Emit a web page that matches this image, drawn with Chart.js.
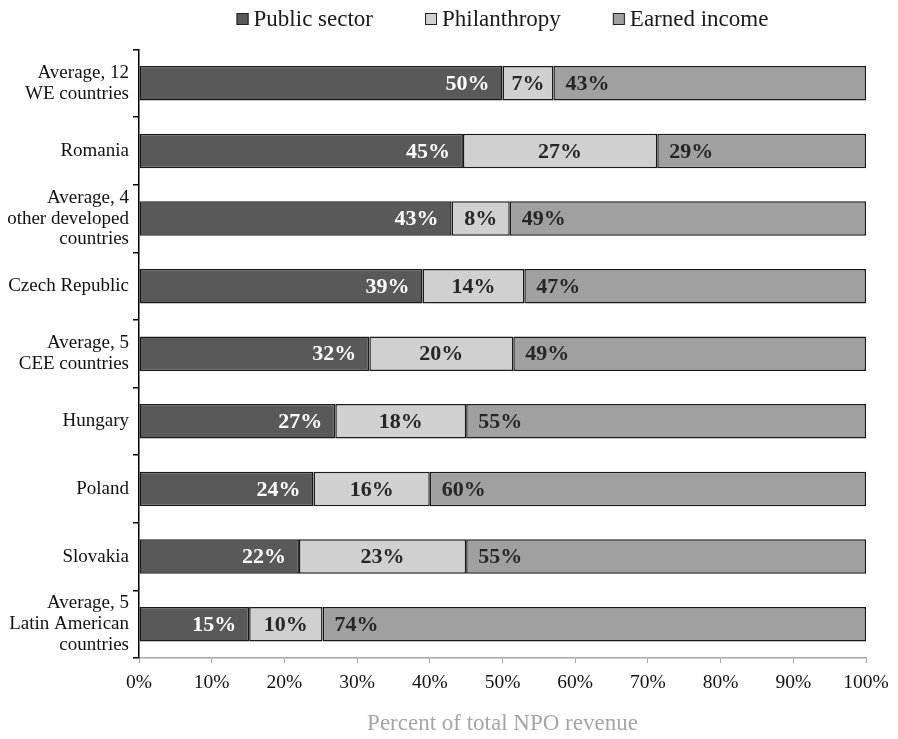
<!DOCTYPE html>
<html>
<head>
<meta charset="utf-8">
<title>NPO revenue sources</title>
<script src="https://cdn.jsdelivr.net/npm/chart.js@4.4.1/dist/chart.umd.min.js"></script>
<style>
    html, body { margin: 0; padding: 0; background: #fff; }
    #wrap { width: 898px; height: 739px; position: relative; }
</style>
</head>
<body>
<div id="wrap"><canvas id="revenueChart"></canvas></div>
<script>
// Revenue structure by country / group (shares as printed, %)
const countries = [
    ["Average, 12", "WE countries"],
    "Romania",
    ["Average, 4", "other developed", "countries"],
    "Czech Republic",
    ["Average, 5", "CEE countries"],
    "Hungary",
    "Poland",
    "Slovakia",
    ["Average, 5", "Latin American", "countries"]
];
const publicSector = [50, 45, 43, 39, 32, 27, 24, 22, 15];
const philanthropy = [7, 27, 8, 14, 20, 18, 16, 23, 10];
const earnedIncome = [43, 29, 49, 47, 49, 55, 60, 55, 74];

const seriesNames = ["Public sector", "Philanthropy", "Earned income"];
const seriesColors = ["#595959", "#d0d0d0", "#a0a0a0"];
const xTicks = [0, 10, 20, 30, 40, 50, 60, 70, 80, 90, 100];

const SERIF = '"Liberation Serif", "Times New Roman", serif';

// 100% stacked: every row is scaled to its own total
const rawSeries = [publicSector, philanthropy, earnedIncome];
const rowTotals = countries.map((_, i) => rawSeries.reduce((s, arr) => s + arr[i], 0));
const shares = rawSeries.map(arr => arr.map((v, i) => v / rowTotals[i] * 100));

// labels inside the bars: end / center / base
const barLabels = {
    id: "barLabels",
    afterDatasetsDraw(chart) {
        const ctx = chart.ctx;
        ctx.save();
        ctx.font = "bold 22px " + SERIF;
        ctx.textBaseline = "middle";
        chart.data.datasets.forEach((ds, di) => {
            const meta = chart.getDatasetMeta(di);
            meta.data.forEach((bar, i) => {
                const txt = rawSeries[di][i] + "%";
                const y = bar.y + 1;
                if (di === 0) {
                    ctx.fillStyle = "#ffffff";
                    ctx.textAlign = "right";
                    ctx.fillText(txt, bar.x - 13, y);
                } else if (di === 1) {
                    ctx.fillStyle = "#262626";
                    ctx.textAlign = "center";
                    ctx.fillText(txt, (bar.x + bar.base) / 2, y);
                } else {
                    ctx.fillStyle = "#262626";
                    ctx.textAlign = "left";
                    ctx.fillText(txt, bar.base + 12, y);
                }
            });
        });
        ctx.restore();
    }
};

// legend row above the plot
const topLegend = {
    id: "topLegend",
    afterDraw(chart) {
        const ctx = chart.ctx;
        const area = chart.chartArea;
        const box = 12, gapText = 5, gapItem = 52;
        ctx.save();
        ctx.font = "23px " + SERIF;
        const widths = seriesNames.map(n => ctx.measureText(n).width);
        const total = widths.reduce((s, w) => s + box + gapText + w, 0) + gapItem * (seriesNames.length - 1);
        let x = (area.left + area.right) / 2 - total / 2;
        const baseline = 26;
        seriesNames.forEach((name, i) => {
            ctx.fillStyle = seriesColors[i];
            ctx.fillRect(x, 13, box, box);
            ctx.strokeStyle = "#222";
            ctx.lineWidth = 1;
            ctx.strokeRect(x + 0.5, 13.5, box - 1, box - 1);
            ctx.fillStyle = "#1a1a1a";
            ctx.textAlign = "left";
            ctx.textBaseline = "alphabetic";
            ctx.fillText(name, x + box + gapText, baseline);
            x += box + gapText + widths[i] + gapItem;
        });
        ctx.restore();
    }
};

const ctx = document.getElementById("revenueChart").getContext("2d");

new Chart(ctx, {
    type: "bar",
    data: {
        labels: countries,
        datasets: seriesNames.map((name, i) => ({
            label: name,
            data: shares[i],
            backgroundColor: seriesColors[i],
            borderColor: "#1a1a1a",
            borderWidth: 1.5,
            borderSkipped: false,
            categoryPercentage: 1,
            barPercentage: 0.51
        }))
    },
    options: {
        indexAxis: "y",
        responsive: true,
        maintainAspectRatio: false,
        animation: false,
        layout: { padding: { top: 49.5, right: 32, left: 0, bottom: 0 } },
        plugins: {
            legend: { display: false },
            tooltip: { enabled: false }
        },
        scales: {
            x: {
                stacked: true,
                min: 0,
                max: 100,
                afterBuildTicks: scale => {
                    scale.ticks = xTicks.map(v => ({ value: v }));
                },
                afterFit: scale => { scale.height = 81; },
                ticks: {
                    callback: v => v + "%",
                    color: "#111",
                    font: { family: SERIF, size: 19.5 },
                    padding: 8,
                    maxRotation: 0
                },
                grid: {
                    drawOnChartArea: false,
                    drawTicks: true,
                    tickLength: 5,
                    color: "#a6a6a6",
                    lineWidth: 1
                },
                border: { color: "#a6a6a6", width: 1.5 },
                title: {
                    display: true,
                    text: "Percent of total NPO revenue",
                    color: "#a6a6a6",
                    font: { family: SERIF, size: 23 },
                    padding: { top: 0, bottom: 1 }
                }
            },
            y: {
                stacked: true,
                afterFit: scale => { scale.width = 139; },
                ticks: {
                    color: "#111",
                    font: { family: SERIF, size: 19, lineHeight: 1.1 },
                    padding: 4
                },
                grid: {
                    offset: true,
                    drawOnChartArea: false,
                    drawTicks: true,
                    tickLength: 6,
                    color: "#000",
                    lineWidth: 1.5
                },
                border: { color: "#000", width: 1.5 }
            }
        }
    },
    plugins: [barLabels, topLegend]
});
</script>
</body>
</html>
